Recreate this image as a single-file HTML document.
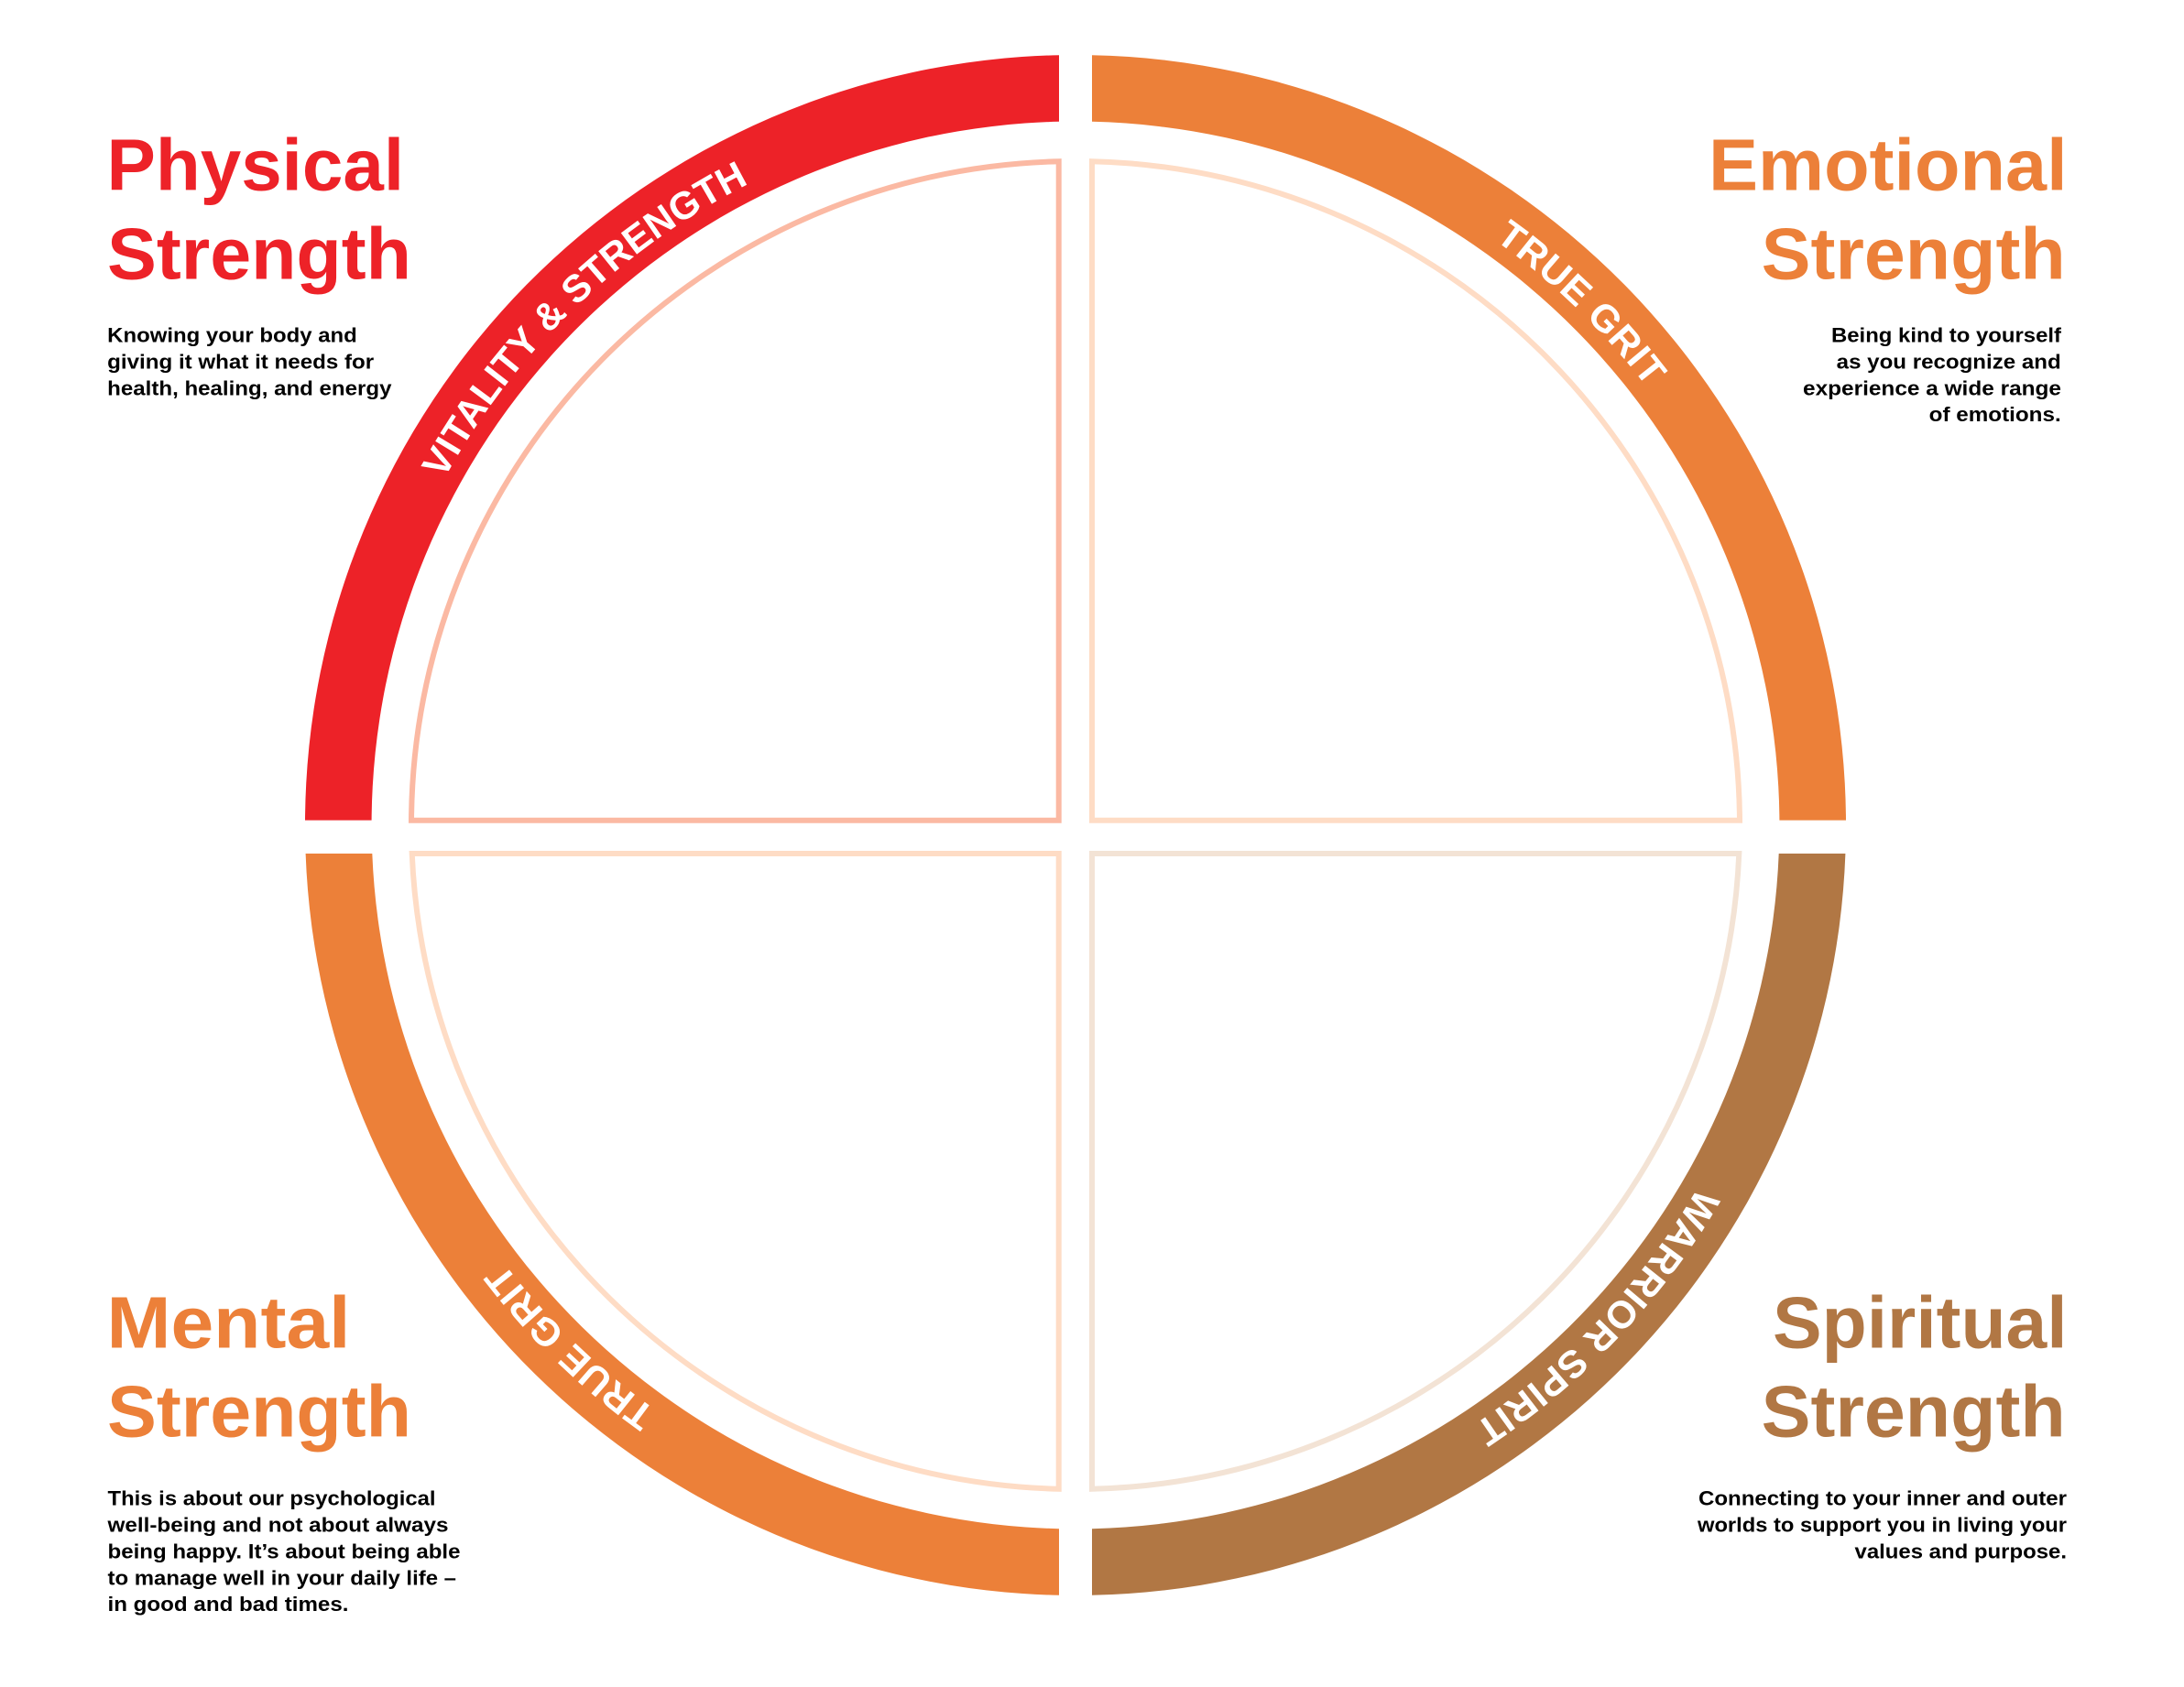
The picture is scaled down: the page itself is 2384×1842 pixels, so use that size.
<!DOCTYPE html>
<html>
<head>
<meta charset="utf-8">
<style>
html,body{margin:0;padding:0;background:#fff;}
svg{display:block;}
text{font-family:"Liberation Sans",Arial,sans-serif;font-weight:700;}
.h{font-size:80px;}
.b{font-size:22px;fill:#000;}
.c{font-size:42px;fill:#fff;}
</style>
</head>
<body>
<svg width="2384" height="1842" viewBox="0 0 2384 1842" xmlns="http://www.w3.org/2000/svg">
<rect width="2384" height="1842" fill="#fff"/>
<defs>
<path id="c" d="M1174 115 A786 786 0 1 1 1173.9 115"/>
</defs>

<!-- Outer bands -->
<path d="M1156 60.2 A841 841 0 0 0 333 895.6 H405.6 A768.4 768.4 0 0 1 1156 132.8 Z" fill="#ED2228"/>
<path d="M1192 60.2 A841 841 0 0 1 2015 895.6 H1942.4 A768.4 768.4 0 0 0 1192 132.8 Z" fill="#EC8039"/>
<path d="M333.6 932 A841 841 0 0 0 1156 1741.8 V1669.2 A768.4 768.4 0 0 1 406.3 932 Z" fill="#EC8039"/>
<path d="M2014.4 932 A841 841 0 0 1 1192 1741.8 V1669.2 A768.4 768.4 0 0 0 1941.7 932 Z" fill="#B17744"/>

<!-- Inner quadrants -->
<g fill="#fff" stroke-width="6" stroke-miterlimit="10">
<path d="M1155.7 895.7 H449 A725 725 0 0 1 1155.7 176.2 Z" stroke="#FBB9A3"/>
<path d="M1192 895.7 H1899 A725 725 0 0 0 1192 176.2 Z" stroke="#FEDCC5"/>
<path d="M1155.7 932 H449.7 A725 725 0 0 0 1155.7 1625.8 Z" stroke="#FEDCC5"/>
<path d="M1192 932 H1898.3 A725 725 0 0 1 1192 1625.8 Z" stroke="#F3E3D5"/>
</g>

<!-- Curved labels -->
<text class="c" transform="rotate(-61.3 1174 901)" letter-spacing="0.2"><textPath href="#c">VITALITY &amp; STRENGTH</textPath></text>
<text class="c" transform="rotate(35.6 1174 901)" letter-spacing="0.8"><textPath href="#c">TRUE GRIT</textPath></text>
<text class="c" transform="rotate(120.2 1174 901)" letter-spacing="0.8"><textPath href="#c">WARRIOR SPIRIT</textPath></text>
<text class="c" transform="rotate(215.6 1174 901)" letter-spacing="0.8"><textPath href="#c">TRUE GRIT</textPath></text>

<!-- Physical -->
<g fill="#ED2228">
<text class="h" x="116.5" y="207.7" textLength="324.6" lengthAdjust="spacingAndGlyphs">Physical</text>
<text class="h" x="117" y="304.3" textLength="332" lengthAdjust="spacingAndGlyphs">Strength</text>
</g>
<text class="b" x="117.2" y="373.3" textLength="272.6" lengthAdjust="spacingAndGlyphs">Knowing your body and</text>
<text class="b" x="117.2" y="402.5" textLength="291" lengthAdjust="spacingAndGlyphs">giving it what it needs for</text>
<text class="b" x="117.2" y="431.3" textLength="310.3" lengthAdjust="spacingAndGlyphs">health, healing, and energy</text>

<!-- Emotional -->
<g fill="#EC8039">
<text class="h" x="1865" y="207.7" textLength="391.6" lengthAdjust="spacingAndGlyphs">Emotional</text>
<text class="h" x="1922.7" y="304.3" textLength="332" lengthAdjust="spacingAndGlyphs">Strength</text>
</g>
<text class="b" x="1999" y="373.3" textLength="251" lengthAdjust="spacingAndGlyphs">Being kind to yourself</text>
<text class="b" x="2004.7" y="402.5" textLength="245" lengthAdjust="spacingAndGlyphs">as you recognize and</text>
<text class="b" x="1968" y="431.3" textLength="282" lengthAdjust="spacingAndGlyphs">experience a wide range</text>
<text class="b" x="2105.7" y="460" textLength="144" lengthAdjust="spacingAndGlyphs">of emotions.</text>

<!-- Mental -->
<g fill="#EC8039">
<text class="h" x="116.5" y="1471.7" textLength="266" lengthAdjust="spacingAndGlyphs">Mental</text>
<text class="h" x="117" y="1568.7" textLength="332" lengthAdjust="spacingAndGlyphs">Strength</text>
</g>
<text class="b" x="117.5" y="1643.3" textLength="358" lengthAdjust="spacingAndGlyphs">This is about our psychological</text>
<text class="b" x="117.5" y="1672.5" textLength="372" lengthAdjust="spacingAndGlyphs">well-being and not about always</text>
<text class="b" x="117.5" y="1701.3" textLength="385" lengthAdjust="spacingAndGlyphs">being happy. It’s about being able</text>
<text class="b" x="117.5" y="1730.3" textLength="380.5" lengthAdjust="spacingAndGlyphs">to manage well in your daily life –</text>
<text class="b" x="117.5" y="1759" textLength="263" lengthAdjust="spacingAndGlyphs">in good and bad times.</text>

<!-- Spiritual -->
<g fill="#B17744">
<text class="h" x="1935" y="1471.7" textLength="321.6" lengthAdjust="spacingAndGlyphs">Spiritual</text>
<text class="h" x="1922.7" y="1568.7" textLength="332" lengthAdjust="spacingAndGlyphs">Strength</text>
</g>
<text class="b" x="1854" y="1643.3" textLength="402" lengthAdjust="spacingAndGlyphs">Connecting to your inner and outer</text>
<text class="b" x="1853" y="1672.5" textLength="403" lengthAdjust="spacingAndGlyphs">worlds to support you in living your</text>
<text class="b" x="2024.5" y="1701.3" textLength="231.5" lengthAdjust="spacingAndGlyphs">values and purpose.</text>
</svg>
</body>
</html>
